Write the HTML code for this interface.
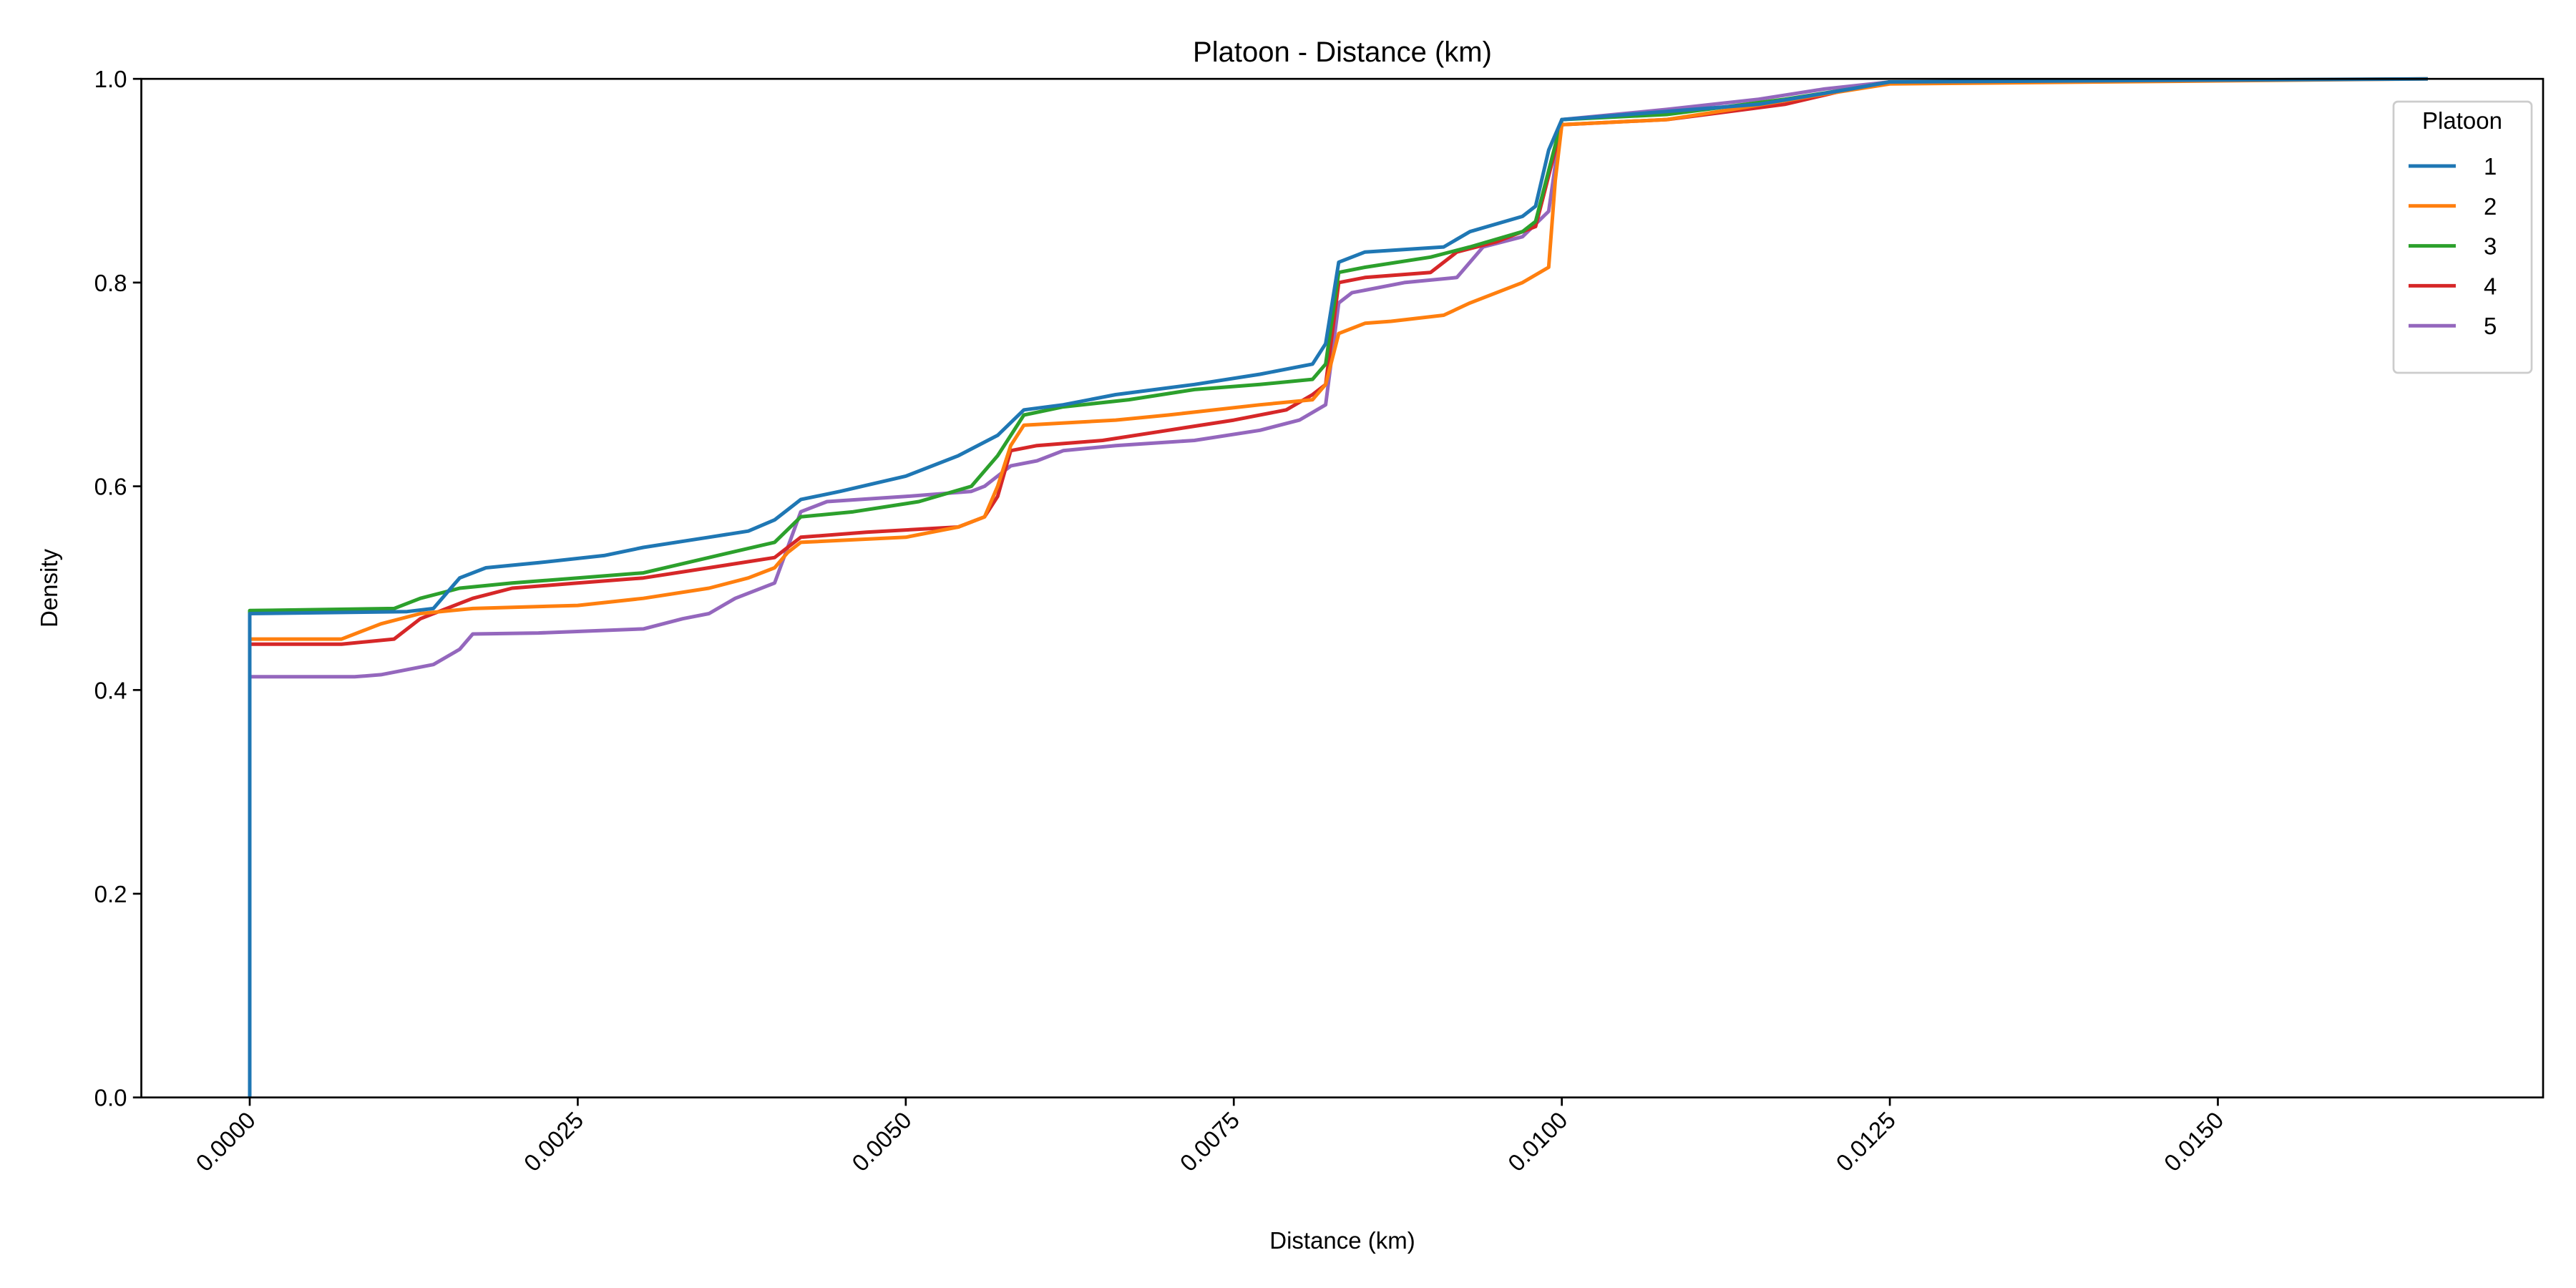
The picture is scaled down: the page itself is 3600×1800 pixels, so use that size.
<!DOCTYPE html>
<html><head><meta charset="utf-8"><style>
body{margin:0;background:#fff;}
svg{display:block;font-family:"Liberation Sans","DejaVu Sans",sans-serif;}
</style></head><body>
<svg id="chart" width="3600" height="1800" viewBox="0 0 3600 1800" xmlns="http://www.w3.org/2000/svg">
<rect width="3600" height="1800" fill="#fff"/>
<text x="1876" y="86" font-size="40" text-anchor="middle">Platoon - Distance (km)</text>
<g id="series"></g>
<rect x="197.5" y="110.2" width="3356.5" height="1423.5" fill="none" stroke="#000" stroke-width="2.7"/>
<g id="axes"></g>
<text x="1876" y="1745" font-size="33" text-anchor="middle">Distance (km)</text>
<text transform="translate(80,822) rotate(-90)" font-size="33" text-anchor="middle">Density</text>
<g id="legend"></g>
</svg>
<script>
const seriesNames=["1","2","3","4","5"];
const colors=["#1f77b4","#ff7f0e","#2ca02c","#d62728","#9467bd"];
const xTicks=[0,0.0025,0.005,0.0075,0.01,0.0125,0.015];
const xTickLabels=["0.0000","0.0025","0.0050","0.0075","0.0100","0.0125","0.0150"];
const yTicks=[0,0.2,0.4,0.6,0.8,1.0];
const yTickLabels=["0.0","0.2","0.4","0.6","0.8","1.0"];
const x1=[0,0,0.0012,0.0014,0.0016,0.0018,0.0022,0.0027,0.003,0.0035,0.0038,0.004,0.0042,0.0045,0.005,0.0054,0.0057,0.0059,0.0062,0.0066,0.0072,0.0077,0.0081,0.0082,0.0083,0.0085,0.0091,0.0093,0.0097,0.0098,0.0099,0.01,0.0105,0.0115,0.0122,0.0125,0.0166];
const y1=[0,0.475,0.477,0.48,0.51,0.52,0.525,0.532,0.54,0.55,0.556,0.567,0.587,0.595,0.61,0.63,0.65,0.675,0.68,0.69,0.70,0.71,0.72,0.74,0.82,0.83,0.835,0.85,0.865,0.875,0.93,0.96,0.965,0.975,0.99,0.997,1.0];
const x2=[0,0,0.0007,0.001,0.0013,0.0017,0.0025,0.003,0.0035,0.0038,0.004,0.0041,0.0042,0.005,0.0054,0.0056,0.0057,0.0058,0.0059,0.0066,0.007,0.0077,0.0081,0.0082,0.0083,0.0085,0.0087,0.0091,0.0093,0.0097,0.0099,0.00995,0.01,0.0108,0.0113,0.012,0.0125,0.0166];
const y2=[0,0.45,0.45,0.465,0.475,0.48,0.483,0.49,0.50,0.51,0.52,0.535,0.545,0.55,0.56,0.57,0.60,0.64,0.66,0.665,0.67,0.68,0.685,0.70,0.75,0.76,0.762,0.768,0.78,0.80,0.815,0.9,0.955,0.96,0.97,0.985,0.995,1.0];
const x3=[0,0,0.0011,0.0013,0.0016,0.002,0.0025,0.003,0.0035,0.004,0.0042,0.0046,0.0051,0.0055,0.0057,0.0059,0.0062,0.0067,0.0072,0.0077,0.0081,0.0082,0.0083,0.0085,0.009,0.0093,0.0097,0.0098,0.01,0.0108,0.0117,0.0122,0.0125];
const y3=[0,0.478,0.48,0.49,0.50,0.505,0.51,0.515,0.53,0.545,0.57,0.575,0.585,0.60,0.63,0.67,0.678,0.685,0.695,0.70,0.705,0.72,0.81,0.815,0.825,0.835,0.85,0.86,0.96,0.965,0.98,0.99,0.997];
const x4=[0,0,0.0007,0.0011,0.0013,0.0017,0.002,0.0025,0.003,0.0035,0.004,0.0042,0.0047,0.0054,0.0056,0.0057,0.0058,0.006,0.0065,0.007,0.0075,0.0079,0.0081,0.0082,0.0083,0.0085,0.009,0.0092,0.0095,0.0098,0.01,0.0108,0.0117,0.0122,0.0125];
const y4=[0,0.445,0.445,0.45,0.47,0.49,0.50,0.505,0.51,0.52,0.53,0.55,0.555,0.56,0.57,0.59,0.635,0.64,0.645,0.655,0.665,0.675,0.69,0.70,0.80,0.805,0.81,0.83,0.84,0.855,0.955,0.96,0.975,0.99,0.997];
const x5=[0,0,0.0008,0.001,0.0014,0.0016,0.0017,0.0022,0.003,0.0033,0.0035,0.0037,0.004,0.0042,0.0044,0.005,0.0055,0.0056,0.0058,0.006,0.0062,0.0066,0.0072,0.0077,0.008,0.0082,0.0083,0.0084,0.0088,0.0092,0.0094,0.0097,0.0099,0.01,0.0108,0.0115,0.012,0.0125];
const y5=[0,0.413,0.413,0.415,0.425,0.44,0.455,0.456,0.46,0.47,0.475,0.49,0.505,0.575,0.585,0.59,0.595,0.60,0.62,0.625,0.635,0.64,0.645,0.655,0.665,0.68,0.78,0.79,0.80,0.805,0.835,0.845,0.87,0.96,0.97,0.98,0.99,0.997];
const xs=[x1,x2,x3,x4,x5], ys=[y1,y2,y3,y4,y5];
const NS="http://www.w3.org/2000/svg";
const L=197.5,T=110.2,B=1533.7;
const x0px=349, perUnit=(3099.5-349)/0.015;
function sx(v){return x0px+v*perUnit;}
function sy(v){return B-v*(B-T);}
function mk(tag,attrs,parent){const e=document.createElementNS(NS,tag);for(const k in attrs)e.setAttribute(k,attrs[k]);parent.appendChild(e);return e;}
const axes=document.getElementById('axes');
xTicks.forEach((t,i)=>{
  const l=mk('line',{x1:sx(t),x2:sx(t),y1:B,y2:B+11.7,stroke:'#000','stroke-width':2.7},axes);
  
  
  const tx=mk('text',{'font-size':33,'text-anchor':'end',transform:`translate(${sx(t)+10},${B+34}) rotate(-45)`},axes);
  
  
  tx.textContent=xTickLabels[i];
});
yTicks.forEach((t,i)=>{
  const l=mk('line',{x1:L-11.7,x2:L,y1:sy(t),y2:sy(t),stroke:'#000','stroke-width':2.7},axes);
  
  
  const tx=mk('text',{'font-size':33,'text-anchor':'end',x:L-20,y:sy(t)+12},axes);
  
  
  tx.textContent=yTickLabels[i];
});
const sg=document.getElementById('series');
for(let s=4;s>=0;s--){
  const d=xs[s].map((v,i)=>(i?'L':'M')+sx(v).toFixed(1)+','+sy(ys[s][i]).toFixed(1)).join(' ');
  const p=mk('path',{d:d,fill:'none',stroke:colors[s],'stroke-width':5,'stroke-linejoin':'round'},sg);
  
  
}
const lg=document.getElementById('legend');
const box=mk('rect',{x:3345,y:142,width:193,height:379,rx:6,fill:'#fff','fill-opacity':0.8,stroke:'#ccc','stroke-width':2.7},lg);


const lt=mk('text',{x:3441,y:180,'font-size':33,'text-anchor':'middle'},lg);


lt.textContent='Platoon';
seriesNames.forEach((n,i)=>{
  const yy=232+i*55.8;
  const ln=mk('line',{x1:3366,x2:3432,y1:yy,y2:yy,stroke:colors[i],'stroke-width':5},lg);
  
  
  const tx=mk('text',{x:3471,y:yy+12,'font-size':33},lg);
  
  
  tx.textContent=n;
});
</script>
</body></html>
